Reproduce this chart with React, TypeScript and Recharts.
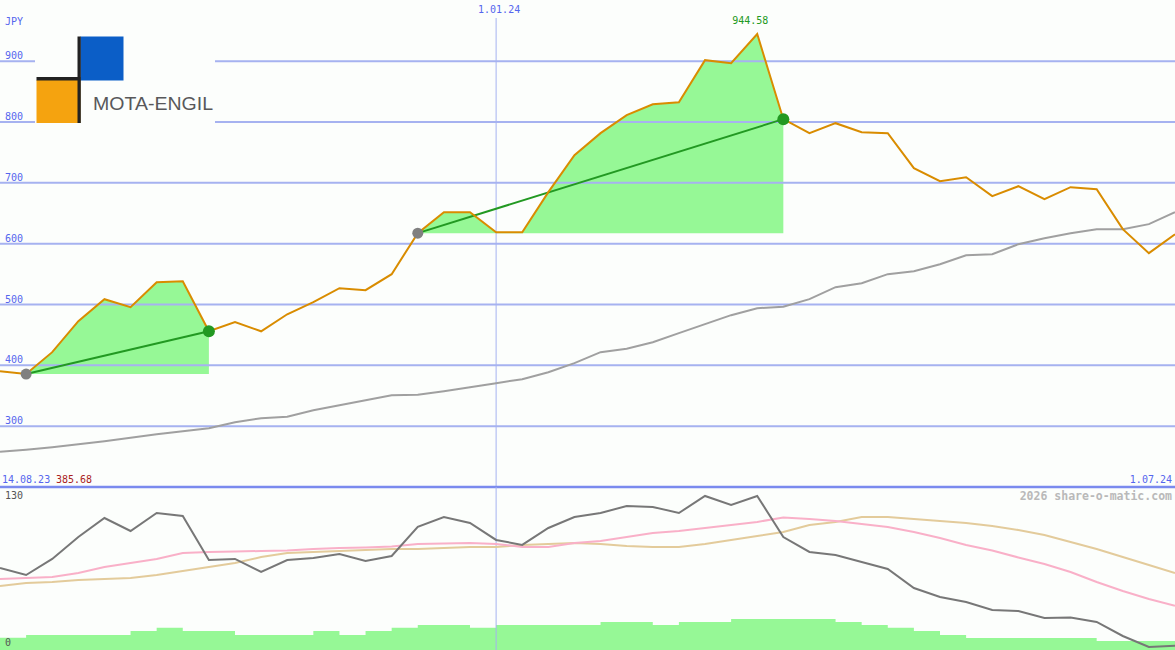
import React from 'react';
import {
  ComposedChart,
  Line,
  Area,
  XAxis,
  YAxis,
  ReferenceLine,
  LabelList,
} from 'recharts';

// ---------- data ----------
const weekIndex = [
  0, 1, 2, 3, 4, 5, 6, 7, 8, 9, 10, 11, 12, 13, 14, 15, 16, 17, 18, 19, 20, 21, 22,
  23, 24, 25, 26, 27, 28, 29, 30, 31, 32, 33, 34, 35, 36, 37, 38, 39, 40, 41, 42, 43, 44, 45,
];

const price = [
  390.4, 385.68, 421.7, 472.6, 508.8, 495.6, 536.7, 538.4, 456.2, 471.0, 456.0, 484.0,
  503.8, 526.9, 523.6, 549.9, 617.3, 651.8, 651.8, 618.9, 618.9, 684.7, 745.5, 781.7,
  811.3, 829.3, 832.6, 901.7, 896.7, 944.58, 804.7, 781.7, 798.1, 783.3, 781.7, 724.1,
  702.8, 709.3, 678.1, 694.5, 673.2, 692.9, 689.6, 623.9, 584.4, 615.6,
];

const movingAvg = [
  257.8, 261.4, 265.5, 270.4, 275.3, 281.1, 286.8, 291.8, 296.7, 306.6, 313.2, 315.6,
  326.3, 334.5, 342.7, 351.0, 351.8, 357.5, 364.1, 370.7, 377.3, 388.8, 403.6, 421.7,
  427.4, 438.1, 452.9, 467.7, 482.5, 494.0, 496.5, 508.8, 528.5, 535.1, 549.9, 554.8,
  566.3, 581.1, 582.8, 599.2, 609.1, 617.3, 623.9, 623.9, 632.1, 651.8,
];

const momentum = [
  71.6, 65.4, 79.6, 99.0, 115.8, 104.3, 120.2, 117.6, 78.7, 79.6, 68.1, 78.7, 80.5, 84.0,
  77.8, 82.2, 107.9, 116.7, 111.4, 96.4, 92.0, 107.0, 116.7, 120.2, 126.4, 125.6, 120.2,
  135.3, 127.3, 135.3, 99.0, 85.8, 83.1, 76.9, 70.7, 53.9, 46.0, 41.6, 34.5, 33.6, 27.4,
  27.9, 23.9, 11.5, 1.8, 2.9,
];

const pinkAvg = [
  61.9, 62.8, 63.7, 67.2, 72.5, 76.0, 79.6, 84.9, 85.8, 86.2, 86.6, 87.1, 88.4, 89.3,
  89.7, 90.6, 92.8, 93.3, 93.7, 92.8, 90.2, 90.2, 93.7, 95.5, 99.0, 102.6, 104.3, 107.0,
  109.6, 112.3, 116.3, 114.9, 113.2, 110.5, 107.9, 103.4, 98.1, 92.0, 87.1, 80.9, 75.2,
  68.1, 59.2, 51.3, 44.2, 38.3,
];

const tanAvg = [
  55.7, 58.4, 59.2, 61.0, 61.9, 62.8, 65.4, 69.0, 72.5, 76.0, 81.3, 84.9, 85.8, 86.6,
  87.5, 88.4, 88.4, 89.3, 90.2, 90.2, 92.0, 92.8, 93.7, 92.8, 91.1, 90.2, 90.2, 92.8,
  96.4, 99.9, 103.4, 109.6, 112.3, 116.7, 116.7, 114.9, 113.2, 111.4, 108.8, 105.2,
  100.8, 94.6, 88.4, 81.3, 74.3, 67.2,
];

const volume = [
  10.0, 12.4, 12.4, 12.4, 12.4, 15.9, 18.8, 15.9, 15.9, 12.4, 12.4, 12.4, 15.9, 12.4,
  15.9, 18.8, 21.2, 21.2, 18.8, 21.2, 21.2, 21.2, 21.2, 23.9, 23.9, 21.2, 23.9, 23.9,
  26.5, 26.5, 26.5, 26.5, 23.9, 21.2, 18.8, 15.9, 12.4, 9.7, 9.7, 9.7, 9.7, 9.7, 7.1,
  7.1, 7.1, 7.1,
];

const periods = [
  { start: 1, end: 8 },
  { start: 16, end: 30 },
];

const priceTicks = [300, 400, 500, 600, 700, 800, 900];
const lowerTicks = [0, 130];
const startDateLabel = '14.08.23';
const endDateLabel = '1.07.24';
const midDateIndex = 19;
const midDateLabel = '1.01.24';
const currency = 'JPY';
const watermark = '2026 share-o-matic.com';

// ---------- derived table ----------
const peakValue = Math.max(...price);
const peakIndex = price.indexOf(peakValue);

const rows = weekIndex.map((i) => {
  const row: any = {
    i,
    price: price[i],
    ma: movingAvg[i],
    momentum: momentum[i],
    pink: pinkAvg[i],
    tan: tanAvg[i],
    volume: volume[i],
  };
  periods.forEach((p, k) => {
    row[`fill${k}`] = i >= p.start && i <= p.end ? price[i] : null;
    row[`trend${k}`] = i === p.start || i === p.end ? price[i] : null;
  });
  return row;
});

// ---------- styling ----------
const W = 1175;
const UPPER_H = 490;
const LOWER_TOP = 487;
const LOWER_H = 163;
const PRICE_DOMAIN: [number, number] = [195.1, 1000.6];
const LOWER_DOMAIN: [number, number] = [-0.88, 143.2];
const BG = '#fcfefc';
const BLUE = '#5566ee';
const GRID = '#a6b2f0';
const FILL = '#96f896';
const DARK_GREEN = '#229922';
const MONO = "'DejaVu Sans Mono', monospace";

const PriceTick = (props: any) => (
  <text x={5} y={props.y - 2} fill={BLUE} fontSize={10} fontFamily={MONO}>
    {props.payload.value}
  </text>
);

const LowerTick = (props: any) => (
  <text x={5} y={props.y - 3} fill="#555555" fontSize={10} fontFamily={MONO}>
    {props.payload.value}
  </text>
);

const DateTick = (props: any) => (
  <text x={props.x + 3} y={13} fill={BLUE} fontSize={10} fontFamily={MONO} textAnchor="middle">
    {props.payload.value === midDateIndex ? midDateLabel : ''}
  </text>
);

const makeTrendDot = (k: number) => (p: any) => {
  const key = `td-${k}-${p.index}`;
  if (p.value == null || p.cy == null || p.cx == null) return <g key={key} />;
  const isStart = p.payload.i === periods[k].start;
  return (
    <circle
      key={key}
      cx={p.cx}
      cy={p.cy}
      r={isStart ? 5.5 : 6}
      fill={isStart ? '#808080' : DARK_GREEN}
      stroke="none"
    />
  );
};

const PeakLabel = (p: any) => {
  if (p.index !== peakIndex) return null;
  return (
    <text x={p.x - 7} y={p.y - 10} fill={DARK_GREEN} fontSize={10} fontFamily={MONO} textAnchor="middle">
      {Number(p.value).toFixed(2)}
    </text>
  );
};

export default function App() {
  return (
    <div
      style={{
        position: 'absolute',
        left: 0,
        top: 0,
        width: W,
        height: 650,
        background: BG,
        overflow: 'hidden',
      }}
    >
      {/* upper price panel */}
      <div style={{ position: 'absolute', left: 0, top: 0 }}>
        <ComposedChart width={W} height={UPPER_H} data={rows} margin={{ top: 0, right: 0, bottom: 0, left: 0 }}>
          <XAxis
            type="number"
            dataKey="i"
            domain={[0, 45]}
            orientation="top"
            mirror
            ticks={[midDateIndex]}
            interval={0}
            axisLine={false}
            tickLine={false}
            tick={<DateTick />}
          />
          <YAxis
            type="number"
            domain={PRICE_DOMAIN}
            ticks={priceTicks}
            interval={0}
            mirror
            axisLine={false}
            tickLine={false}
            tick={<PriceTick />}
          />
          {priceTicks.map((t) => (
            <ReferenceLine key={`g${t}`} y={t} stroke={GRID} strokeWidth={2} />
          ))}
          <ReferenceLine
            segment={[
              { x: midDateIndex, y: 971 },
              { x: midDateIndex, y: 200 },
            ]}
            stroke={GRID}
            strokeWidth={1}
          />
          <ReferenceLine y={200} stroke="#7a8aee" strokeWidth={2.5} />
          {periods.map((p, k) => (
            <Area
              key={`fill${k}`}
              dataKey={`fill${k}`}
              type="linear"
              baseValue={price[p.start]}
              stroke="none"
              fill={FILL}
              fillOpacity={1}
              dot={false}
              activeDot={false}
              isAnimationActive={false}
            />
          ))}
          <Line
            dataKey="ma"
            type="linear"
            stroke="#a0a0a0"
            strokeWidth={2}
            dot={false}
            activeDot={false}
            isAnimationActive={false}
          />
          {periods.map((p, k) => (
            <Line
              key={`trend${k}`}
              dataKey={`trend${k}`}
              type="linear"
              connectNulls
              stroke={DARK_GREEN}
              strokeWidth={2}
              dot={makeTrendDot(k)}
              activeDot={false}
              isAnimationActive={false}
            />
          ))}
          <Line
            dataKey="price"
            type="linear"
            stroke="#d98c00"
            strokeWidth={2}
            dot={false}
            activeDot={false}
            isAnimationActive={false}
          >
            <LabelList dataKey="price" content={PeakLabel} />
          </Line>
        </ComposedChart>
      </div>

      {/* lower indicator panel */}
      <div style={{ position: 'absolute', left: 0, top: LOWER_TOP }}>
        <ComposedChart width={W} height={LOWER_H} data={rows} margin={{ top: 0, right: 0, bottom: 0, left: 0 }}>
          <XAxis type="number" dataKey="i" domain={[0, 45]} hide />
          <YAxis
            type="number"
            domain={LOWER_DOMAIN}
            ticks={lowerTicks}
            interval={0}
            mirror
            axisLine={false}
            tickLine={false}
            tick={<LowerTick />}
          />
          <ReferenceLine x={midDateIndex} stroke={GRID} strokeWidth={1} />
          <Area
            dataKey="volume"
            type="stepAfter"
            baseValue="dataMin"
            stroke="none"
            fill={FILL}
            fillOpacity={1}
            dot={false}
            activeDot={false}
            isAnimationActive={false}
          />
          <Line dataKey="tan" type="linear" stroke="#e3cb9b" strokeWidth={2} dot={false} activeDot={false} isAnimationActive={false} />
          <Line dataKey="pink" type="linear" stroke="#f9b0c8" strokeWidth={2} dot={false} activeDot={false} isAnimationActive={false} />
          <Line dataKey="momentum" type="linear" stroke="#777777" strokeWidth={2} dot={false} activeDot={false} isAnimationActive={false} />
        </ComposedChart>
      </div>

      {/* text and logo overlay */}
      <svg
        width={W}
        height={650}
        style={{ position: 'absolute', left: 0, top: 0, pointerEvents: 'none' }}
      >
        <text x={5} y={25} fill={BLUE} fontSize={10} fontFamily={MONO}>
          {currency}
        </text>
        <text x={2} y={483} fill={BLUE} fontSize={10} fontFamily={MONO}>
          {startDateLabel}
        </text>
        <text x={56} y={483} fill="#aa2222" fontSize={10} fontFamily={MONO}>
          {price[periods[0].start].toFixed(2)}
        </text>
        <text x={1172} y={483} fill={BLUE} fontSize={10} fontFamily={MONO} textAnchor="end">
          {endDateLabel}
        </text>
        <text
          x={1172}
          y={500}
          fill="#b9b9b9"
          fontSize={11.5}
          fontWeight="bold"
          fontFamily={MONO}
          textAnchor="end"
        >
          {watermark}
        </text>

        {/* logo */}
        <g>
          <rect x={35} y={35} width={180} height={90} fill={BG} />
          <rect x={80.5} y={36.5} width={43} height={44} fill="#0b5ec7" />
          <rect x={36.5} y={80} width={44} height={43} fill="#f5a30f" />
          <rect x={77.5} y={36.5} width={3.3} height={86.5} fill="#222222" />
          <rect x={36.5} y={77} width={44} height={3.5} fill="#222222" />
          <text
            x={93}
            y={110}
            fill="#58585a"
            fontSize={19}
            fontFamily="'Liberation Sans', Arial, sans-serif"
            textLength={120}
            lengthAdjust="spacingAndGlyphs"
          >
            MOTA-ENGIL
          </text>
        </g>
      </svg>
    </div>
  );
}
